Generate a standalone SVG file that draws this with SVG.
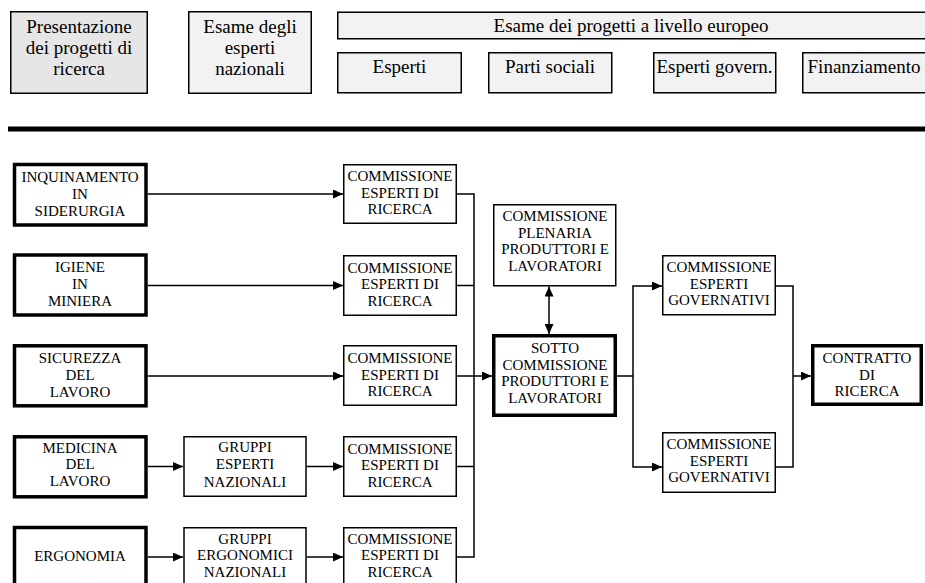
<svg xmlns="http://www.w3.org/2000/svg" width="925" height="583" viewBox="0 0 925 583">
<style>
text{font-family:"Liberation Serif","Times New Roman",serif;fill:#000;text-anchor:middle}
.top{font-size:19px}
.low{font-size:15px}
.hdr{stroke:#000;stroke-width:1.5;fill:#f2f2f2}
.hdr2{stroke:#000;stroke-width:1.5;fill:#e6e6e6}
.thin{stroke:#000;stroke-width:1.5;fill:#fff}
.thick{stroke:#000;stroke-width:3.5;fill:#fff}
.conn path{fill:none;stroke:#000;stroke-width:1.5}
</style>
<defs>
<marker id="ah" viewBox="0 0 10 9" markerUnits="userSpaceOnUse" markerWidth="10" markerHeight="9" refX="10" refY="4.5" orient="auto-start-reverse">
<path d="M0,0 L10,4.5 L0,9 z" fill="#000"/>
</marker>
</defs>
<rect width="925" height="583" fill="#fff"/>

<g id="presentazione">
<rect class="hdr2" x="10.75" y="11.75" width="136.5" height="81.5"/>
<text class="top" x="79" y="33">Presentazione</text>
<text class="top" x="79" y="54">dei progetti di</text>
<text class="top" x="79" y="75">ricerca</text>
</g>
<g id="esame-nazionali">
<rect class="hdr" x="188.75" y="11.75" width="122.5" height="81.5"/>
<text class="top" x="250" y="33">Esame degli</text>
<text class="top" x="250" y="54">esperti</text>
<text class="top" x="250" y="75">nazionali</text>
</g>
<g id="esame-europeo">
<rect class="hdr" x="337.75" y="12.25" width="590" height="26.5"/>
<text class="top" x="631" y="31.5">Esame dei progetti a livello europeo</text>
</g>
<g id="esperti">
<rect class="hdr" x="337.75" y="52.75" width="123.5" height="40"/>
<text class="top" x="399.5" y="73">Esperti</text>
</g>
<g id="parti-sociali">
<rect class="hdr" x="488.75" y="52.75" width="123" height="40"/>
<text class="top" x="550" y="73">Parti sociali</text>
</g>
<g id="esperti-govern">
<rect class="hdr" x="653.75" y="52.75" width="122" height="40"/>
<text class="top" x="714.5" y="73">Esperti govern.</text>
</g>
<g id="finanziamento">
<rect class="hdr" x="802.75" y="52.75" width="124" height="40"/>
<text class="top" x="864" y="73">Finanziamento</text>
</g>
<line x1="8" y1="129" x2="925" y2="129" stroke="#000" stroke-width="5"/>

<g id="inquinamento">
<rect class="thick" x="14.5" y="164.5" width="131.5" height="60.5"/>
<text class="low" x="80" y="181.5">INQUINAMENTO</text>
<text class="low" x="80" y="198.5">IN</text>
<text class="low" x="80" y="215.5">SIDERURGIA</text>
</g>
<g id="igiene">
<rect class="thick" x="14.5" y="255" width="131.5" height="60"/>
<text class="low" x="80" y="272">IGIENE</text>
<text class="low" x="80" y="288.5">IN</text>
<text class="low" x="80" y="305.5">MINIERA</text>
</g>
<g id="sicurezza">
<rect class="thick" x="14.5" y="345.8" width="131.5" height="60"/>
<text class="low" x="80" y="363">SICUREZZA</text>
<text class="low" x="80" y="380">DEL</text>
<text class="low" x="80" y="396.5">LAVORO</text>
</g>
<g id="medicina">
<rect class="thick" x="14.5" y="436.8" width="131.5" height="60"/>
<text class="low" x="80" y="452.5">MEDICINA</text>
<text class="low" x="80" y="469">DEL</text>
<text class="low" x="80" y="485.5">LAVORO</text>
</g>
<g id="ergonomia">
<rect class="thick" x="14.5" y="527.5" width="131.5" height="60"/>
<text class="low" x="80" y="561">ERGONOMIA</text>
</g>

<g id="gruppi-esperti">
<rect class="thin" x="184" y="436.75" width="122" height="59.5"/>
<text class="low" x="245" y="452">GRUPPI</text>
<text class="low" x="245" y="469">ESPERTI</text>
<text class="low" x="245" y="486.5">NAZIONALI</text>
</g>
<g id="gruppi-ergonomici">
<rect class="thin" x="184" y="527.75" width="122" height="60"/>
<text class="low" x="245" y="543.5">GRUPPI</text>
<text class="low" x="245" y="560">ERGONOMICI</text>
<text class="low" x="245" y="576.5">NAZIONALI</text>
</g>

<g id="comm1">
<rect class="thin" x="343.75" y="164.75" width="112.5" height="58.5"/>
<text class="low" x="400" y="181">COMMISSIONE</text>
<text class="low" x="400" y="197.5">ESPERTI DI</text>
<text class="low" x="400" y="214">RICERCA</text>
</g>
<g id="comm2">
<rect class="thin" x="343.75" y="255.75" width="112.5" height="59.5"/>
<text class="low" x="400" y="272.5">COMMISSIONE</text>
<text class="low" x="400" y="289">ESPERTI DI</text>
<text class="low" x="400" y="305.5">RICERCA</text>
</g>
<g id="comm3">
<rect class="thin" x="343.75" y="345.75" width="112.5" height="59.5"/>
<text class="low" x="400" y="363">COMMISSIONE</text>
<text class="low" x="400" y="379.5">ESPERTI DI</text>
<text class="low" x="400" y="396">RICERCA</text>
</g>
<g id="comm4">
<rect class="thin" x="343.75" y="436.75" width="112.5" height="59.5"/>
<text class="low" x="400" y="453.5">COMMISSIONE</text>
<text class="low" x="400" y="470">ESPERTI DI</text>
<text class="low" x="400" y="486.5">RICERCA</text>
</g>
<g id="comm5">
<rect class="thin" x="343.75" y="527.75" width="112.5" height="60"/>
<text class="low" x="400" y="543.5">COMMISSIONE</text>
<text class="low" x="400" y="560">ESPERTI DI</text>
<text class="low" x="400" y="576.5">RICERCA</text>
</g>

<g id="plenaria">
<rect class="thin" x="493.75" y="204.75" width="122" height="81"/>
<text class="low" x="555" y="221">COMMISSIONE</text>
<text class="low" x="555" y="237.5">PLENARIA</text>
<text class="low" x="555" y="254">PRODUTTORI E</text>
<text class="low" x="555" y="270.5">LAVORATORI</text>
</g>
<g id="sotto">
<rect class="thick" x="493.75" y="335.75" width="121.5" height="79.5"/>
<text class="low" x="555" y="353">SOTTO</text>
<text class="low" x="555" y="369.5">COMMISSIONE</text>
<text class="low" x="555" y="386">PRODUTTORI E</text>
<text class="low" x="555" y="402.5">LAVORATORI</text>
</g>
<g id="gov1">
<rect class="thin" x="662.75" y="255.75" width="112.5" height="59"/>
<text class="low" x="719" y="272">COMMISSIONE</text>
<text class="low" x="719" y="288.5">ESPERTI</text>
<text class="low" x="719" y="305">GOVERNATIVI</text>
</g>
<g id="gov2">
<rect class="thin" x="662.75" y="432.75" width="112.5" height="59.5"/>
<text class="low" x="719" y="449">COMMISSIONE</text>
<text class="low" x="719" y="465.5">ESPERTI</text>
<text class="low" x="719" y="482">GOVERNATIVI</text>
</g>
<g id="contratto">
<rect class="thick" x="812.75" y="345.75" width="108.5" height="58.5"/>
<text class="low" x="867" y="363">CONTRATTO</text>
<text class="low" x="867" y="379.5">DI</text>
<text class="low" x="867" y="396">RICERCA</text>
</g>

<g id="connectors" class="conn">
<path d="M147.75,194 H343" marker-end="url(#ah)"/>
<path d="M147.75,285.5 H343" marker-end="url(#ah)"/>
<path d="M147.75,376 H343" marker-end="url(#ah)"/>
<path d="M147.75,466.5 H183" marker-end="url(#ah)"/>
<path d="M306.75,466.5 H343" marker-end="url(#ah)"/>
<path d="M147.75,557 H183" marker-end="url(#ah)"/>
<path d="M306.75,557 H343" marker-end="url(#ah)"/>
<path d="M456.75,194 H474 V557 H456.75"/>
<path d="M456.75,285.5 H474"/>
<path d="M456.75,466.5 H474"/>
<path d="M456.75,376 H492" marker-end="url(#ah)"/>
<path d="M549,286.5 V334" marker-start="url(#ah)" marker-end="url(#ah)"/>
<path d="M617,376 H633"/>
<path d="M662,286 H633 V467 H662" marker-start="url(#ah)" marker-end="url(#ah)"/>
<path d="M776,286 H793 V467 H776"/>
<path d="M793,376 H811" marker-end="url(#ah)"/>
</g>
</svg>
